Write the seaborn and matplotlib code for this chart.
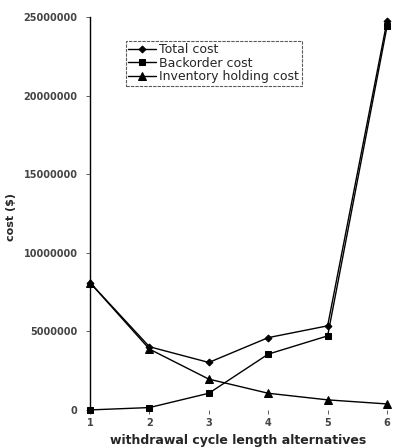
import matplotlib
matplotlib.use("Agg")
import matplotlib.pyplot as plt
import seaborn as sns
import pandas as pd

alternatives = [1, 2, 3, 4, 5, 6]
total_cost = [8100000, 4020000, 3020000, 4600000, 5350000, 24750000]
backorder_cost = [0, 150000, 1060000, 3550000, 4710000, 24400000]
inventory_cost = [8100000, 3870000, 1960000, 1060000, 640000, 380000]
series_names = ["Total cost", "Backorder cost", "Inventory holding cost"]
y_ticks = [0, 5000000, 10000000, 15000000, 20000000, 25000000]

sns.set_theme(style="white")
plt.rcParams['font.family'] = ['DejaVu Sans']

fig = plt.figure(figsize=(3.99, 4.48), dpi=100)
ax = fig.add_axes([0.2256, 0.085, 0.7444, 0.877])

markers = ["D", "s", "^"]
msizes = [3.5, 5, 5.5]
for name, vals, m, ms in zip(series_names, [total_cost, backorder_cost, inventory_cost], markers, msizes):
    df = pd.DataFrame({"alt": alternatives, "cost": vals})
    sns.lineplot(data=df, x="alt", y="cost", ax=ax, color="black", lw=1.0,
                 marker=m, markersize=ms, markeredgecolor="black", label=name,
                 clip_on=False)

ax.set_xlim(1, 6)
ax.set_ylim(0, 25000000)
ax.set_xticks(alternatives)
ax.set_yticks(y_ticks)
ax.set_yticklabels([str(v) for v in y_ticks])

for s in ["top", "right", "bottom"]:
    ax.spines[s].set_visible(False)
ax.spines["left"].set_color("black")
ax.spines["left"].set_linewidth(1.0)
ax.tick_params(axis="both", which="both", direction="out", length=3, width=0.6,
               colors="#444444", labelsize=7, bottom=True, left=True)
ax.tick_params(axis="y", pad=6)
ax.tick_params(axis="x", pad=3)
for lab in ax.get_xticklabels() + ax.get_yticklabels():
    lab.set_fontweight("bold")
    lab.set_color("#444444")

ax.set_xlabel("withdrawal cycle length alternatives", fontsize=9, fontweight="bold", labelpad=4)
ax.set_ylabel("cost ($)", fontsize=8, fontweight="bold")
ax.yaxis.set_label_coords(-0.25, 0.49)

leg = ax.legend(loc="upper left", bbox_to_anchor=(0.12, 0.94), frameon=True, fontsize=9,
                handlelength=2.2, borderpad=0.2, labelspacing=0.05, handletextpad=0.3,
                fancybox=False, borderaxespad=0)
leg.get_frame().set_edgecolor("#333333")
leg.get_frame().set_linewidth(0.8)
leg.get_frame().set_linestyle((0, (3, 1)))

fig.savefig("out.png", dpi=100)
